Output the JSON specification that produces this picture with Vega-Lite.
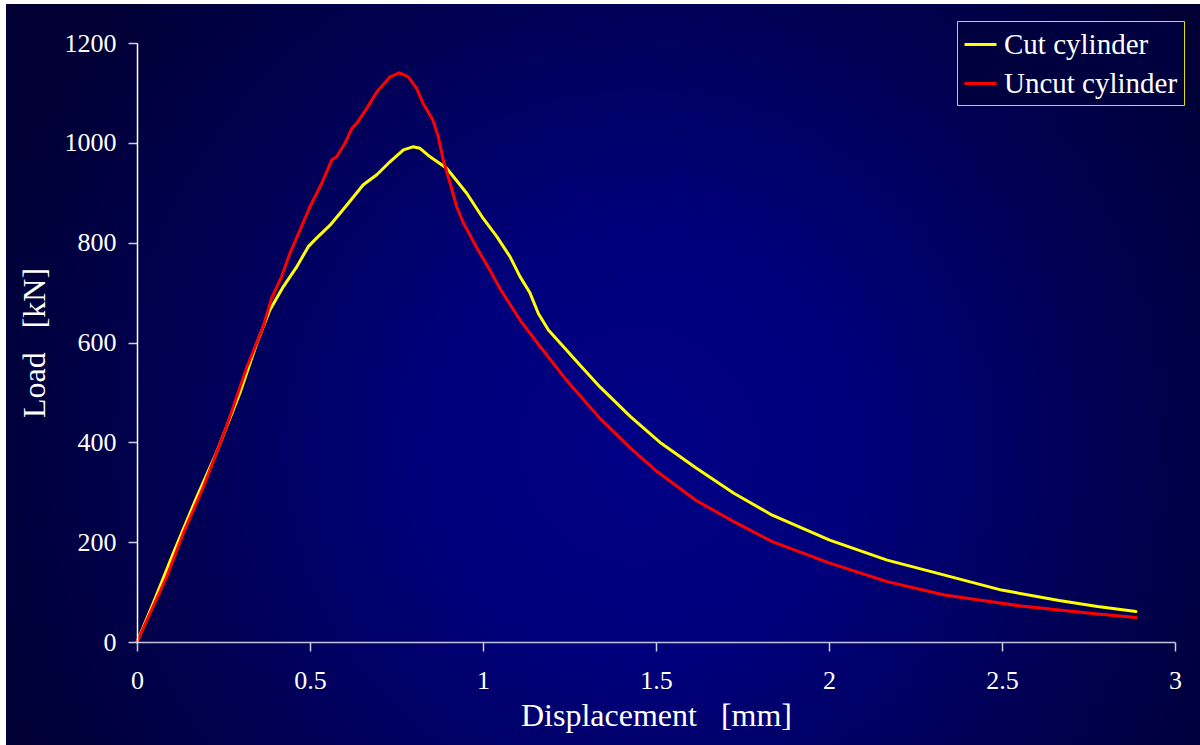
{
  "$schema": "https://vega.github.io/schema/vega-lite/v6.json",
  "width": 1038,
  "height": 599,
  "autosize": {"type": "none"},
  "padding": {"left": 137, "top": 43, "right": 25, "bottom": 103},
  "background": "white",
  "config": {
    "view": {"stroke": null},
    "font": "Liberation Serif",
    "axis": {
      "grid": false,
      "labelFont": "Liberation Serif",
      "labelFontSize": 26,
      "labelColor": "white",
      "titleFont": "Liberation Serif",
      "titleFontSize": 32,
      "titleFontWeight": "normal",
      "titleColor": "white",
      "tickColor": "#cfcfe3",
      "tickSize": 9,
      "tickWidth": 1.5,
      "domainWidth": 1.5,
      "labelFlush": false
    },
    "axisX": {"domainColor": "#c4c4de", "labelPadding": 16, "titlePadding": 7},
    "axisY": {"domainColor": "#ffffff", "labelPadding": 12, "titlePadding": 13}
  },
  "layer": [
    {
      "data": {"values": [{}]},
      "mark": {
        "type": "rect",
        "strokeWidth": 0,
        "color": {
          "gradient": "radial",
          "x1": 0.53, "y1": 0.56, "r1": 0,
          "x2": 0.53, "y2": 0.56, "r2": 0.58,
          "stops": [
            {"offset": 0, "color": "#000084"},
            {"offset": 0.3, "color": "#00007c"},
            {"offset": 0.7, "color": "#000050"},
            {"offset": 1, "color": "#000034"}
          ]
        }
      },
      "encoding": {
        "x": {
          "datum": -0.3786, "type": "quantitative",
          "scale": {"domain": [0, 3], "nice": false, "zero": false},
          "axis": {"zindex": 2, "values": [0, 0.5, 1, 1.5, 2, 2.5, 3], "format": "~g", "title": "Displacement\u00a0\u00a0\u00a0[mm]"}
        },
        "x2": {"datum": 3.0723},
        "y": {
          "datum": 1278.1, "type": "quantitative",
          "scale": {"domain": [0, 1200], "nice": false},
          "axis": {"zindex": 2, "values": [0, 200, 400, 600, 800, 1000, 1200], "format": "d", "title": "Load\u00a0\u00a0\u00a0[kN]"}
        },
        "y2": {"datum": -206.3}
      }
    },
    {
      "data": {
        "values": [
          {"series": "Cut cylinder", "disp": 0, "load": 0},
          {"series": "Cut cylinder", "disp": 0.047, "load": 78},
          {"series": "Cut cylinder", "disp": 0.105, "load": 178},
          {"series": "Cut cylinder", "disp": 0.173, "load": 291},
          {"series": "Cut cylinder", "disp": 0.23, "load": 380},
          {"series": "Cut cylinder", "disp": 0.298, "load": 500},
          {"series": "Cut cylinder", "disp": 0.346, "load": 598},
          {"series": "Cut cylinder", "disp": 0.384, "load": 665},
          {"series": "Cut cylinder", "disp": 0.423, "load": 712},
          {"series": "Cut cylinder", "disp": 0.462, "load": 752},
          {"series": "Cut cylinder", "disp": 0.495, "load": 792},
          {"series": "Cut cylinder", "disp": 0.519, "load": 809},
          {"series": "Cut cylinder", "disp": 0.558, "load": 835},
          {"series": "Cut cylinder", "disp": 0.606, "load": 875},
          {"series": "Cut cylinder", "disp": 0.654, "load": 916},
          {"series": "Cut cylinder", "disp": 0.693, "load": 936},
          {"series": "Cut cylinder", "disp": 0.731, "load": 962},
          {"series": "Cut cylinder", "disp": 0.77, "load": 986},
          {"series": "Cut cylinder", "disp": 0.797, "load": 992},
          {"series": "Cut cylinder", "disp": 0.818, "load": 989},
          {"series": "Cut cylinder", "disp": 0.847, "load": 972},
          {"series": "Cut cylinder", "disp": 0.895, "load": 949},
          {"series": "Cut cylinder", "disp": 0.953, "load": 899},
          {"series": "Cut cylinder", "disp": 1.001, "load": 848},
          {"series": "Cut cylinder", "disp": 1.04, "load": 812},
          {"series": "Cut cylinder", "disp": 1.078, "load": 772},
          {"series": "Cut cylinder", "disp": 1.107, "load": 732},
          {"series": "Cut cylinder", "disp": 1.136, "load": 699},
          {"series": "Cut cylinder", "disp": 1.16, "load": 658},
          {"series": "Cut cylinder", "disp": 1.189, "load": 625},
          {"series": "Cut cylinder", "disp": 1.232, "load": 592},
          {"series": "Cut cylinder", "disp": 1.28, "load": 555},
          {"series": "Cut cylinder", "disp": 1.338, "load": 511},
          {"series": "Cut cylinder", "disp": 1.427, "load": 451},
          {"series": "Cut cylinder", "disp": 1.515, "load": 398},
          {"series": "Cut cylinder", "disp": 1.615, "load": 349},
          {"series": "Cut cylinder", "disp": 1.725, "load": 298},
          {"series": "Cut cylinder", "disp": 1.836, "load": 254},
          {"series": "Cut cylinder", "disp": 2.002, "load": 204},
          {"series": "Cut cylinder", "disp": 2.168, "load": 164},
          {"series": "Cut cylinder", "disp": 2.334, "load": 134},
          {"series": "Cut cylinder", "disp": 2.499, "load": 104},
          {"series": "Cut cylinder", "disp": 2.665, "load": 83},
          {"series": "Cut cylinder", "disp": 2.776, "load": 71},
          {"series": "Cut cylinder", "disp": 2.887, "load": 61},
          {"series": "Uncut cylinder", "disp": 0, "load": 0},
          {"series": "Uncut cylinder", "disp": 0.038, "load": 58},
          {"series": "Uncut cylinder", "disp": 0.086, "load": 131},
          {"series": "Uncut cylinder", "disp": 0.134, "load": 218},
          {"series": "Uncut cylinder", "disp": 0.192, "load": 311},
          {"series": "Uncut cylinder", "disp": 0.259, "load": 432},
          {"series": "Uncut cylinder", "disp": 0.317, "load": 550},
          {"series": "Uncut cylinder", "disp": 0.365, "load": 632},
          {"series": "Uncut cylinder", "disp": 0.389, "load": 689},
          {"series": "Uncut cylinder", "disp": 0.418, "load": 732},
          {"series": "Uncut cylinder", "disp": 0.442, "load": 779},
          {"series": "Uncut cylinder", "disp": 0.471, "load": 825},
          {"series": "Uncut cylinder", "disp": 0.5, "load": 872},
          {"series": "Uncut cylinder", "disp": 0.534, "load": 919},
          {"series": "Uncut cylinder", "disp": 0.563, "load": 966},
          {"series": "Uncut cylinder", "disp": 0.577, "load": 972},
          {"series": "Uncut cylinder", "disp": 0.601, "load": 999},
          {"series": "Uncut cylinder", "disp": 0.621, "load": 1029},
          {"series": "Uncut cylinder", "disp": 0.635, "load": 1039},
          {"series": "Uncut cylinder", "disp": 0.664, "load": 1069},
          {"series": "Uncut cylinder", "disp": 0.693, "load": 1102},
          {"series": "Uncut cylinder", "disp": 0.731, "load": 1132},
          {"series": "Uncut cylinder", "disp": 0.758, "load": 1140},
          {"series": "Uncut cylinder", "disp": 0.784, "load": 1132},
          {"series": "Uncut cylinder", "disp": 0.808, "load": 1109},
          {"series": "Uncut cylinder", "disp": 0.827, "load": 1079},
          {"series": "Uncut cylinder", "disp": 0.855, "load": 1046},
          {"series": "Uncut cylinder", "disp": 0.871, "load": 1012},
          {"series": "Uncut cylinder", "disp": 0.885, "load": 966},
          {"series": "Uncut cylinder", "disp": 0.905, "load": 919},
          {"series": "Uncut cylinder", "disp": 0.924, "load": 872},
          {"series": "Uncut cylinder", "disp": 0.943, "load": 840},
          {"series": "Uncut cylinder", "disp": 0.982, "load": 790},
          {"series": "Uncut cylinder", "disp": 1.02, "load": 745},
          {"series": "Uncut cylinder", "disp": 1.049, "load": 708},
          {"series": "Uncut cylinder", "disp": 1.107, "load": 645},
          {"series": "Uncut cylinder", "disp": 1.165, "load": 592},
          {"series": "Uncut cylinder", "disp": 1.237, "load": 528},
          {"series": "Uncut cylinder", "disp": 1.338, "load": 448},
          {"series": "Uncut cylinder", "disp": 1.427, "load": 388},
          {"series": "Uncut cylinder", "disp": 1.504, "load": 341},
          {"series": "Uncut cylinder", "disp": 1.615, "load": 284},
          {"series": "Uncut cylinder", "disp": 1.725, "load": 241},
          {"series": "Uncut cylinder", "disp": 1.836, "load": 201},
          {"series": "Uncut cylinder", "disp": 2.002, "load": 158},
          {"series": "Uncut cylinder", "disp": 2.168, "load": 121},
          {"series": "Uncut cylinder", "disp": 2.334, "load": 94},
          {"series": "Uncut cylinder", "disp": 2.444, "load": 83},
          {"series": "Uncut cylinder", "disp": 2.555, "load": 72},
          {"series": "Uncut cylinder", "disp": 2.665, "load": 64},
          {"series": "Uncut cylinder", "disp": 2.776, "load": 56},
          {"series": "Uncut cylinder", "disp": 2.887, "load": 49}
        ]
      },
      "mark": {"type": "line", "strokeWidth": 3, "strokeJoin": "round", "strokeCap": "round"},
      "encoding": {
        "x": {
          "field": "disp", "type": "quantitative",
          "scale": {"domain": [0, 3], "nice": false, "zero": false},
          "axis": {"zindex": 2, "values": [0, 0.5, 1, 1.5, 2, 2.5, 3], "format": "~g", "title": "Displacement\u00a0\u00a0\u00a0[mm]"}
        },
        "y": {
          "field": "load", "type": "quantitative",
          "scale": {"domain": [0, 1200], "nice": false},
          "axis": {"zindex": 2, "values": [0, 200, 400, 600, 800, 1000, 1200], "format": "d", "title": "Load\u00a0\u00a0\u00a0[kN]"}
        },
        "color": {
          "field": "series", "type": "nominal",
          "scale": {"domain": ["Cut cylinder", "Uncut cylinder"], "range": ["#ffff00", "#ff0000"]},
          "legend": {
            "title": null,
            "orient": "none",
            "legendX": 820,
            "legendY": -22,
            "padding": 6,
            "fillColor": "#00003e",
            "strokeColor": "#e0e000",
            "symbolType": "stroke",
            "symbolSize": 1024,
            "symbolStrokeWidth": 3,
            "labelFont": "Liberation Serif",
            "labelFontSize": 29,
            "labelColor": "white",
            "labelOffset": 6,
            "rowPadding": 6,
            "labelLimit": 400
          }
        }
      }
    }
  ]
}
